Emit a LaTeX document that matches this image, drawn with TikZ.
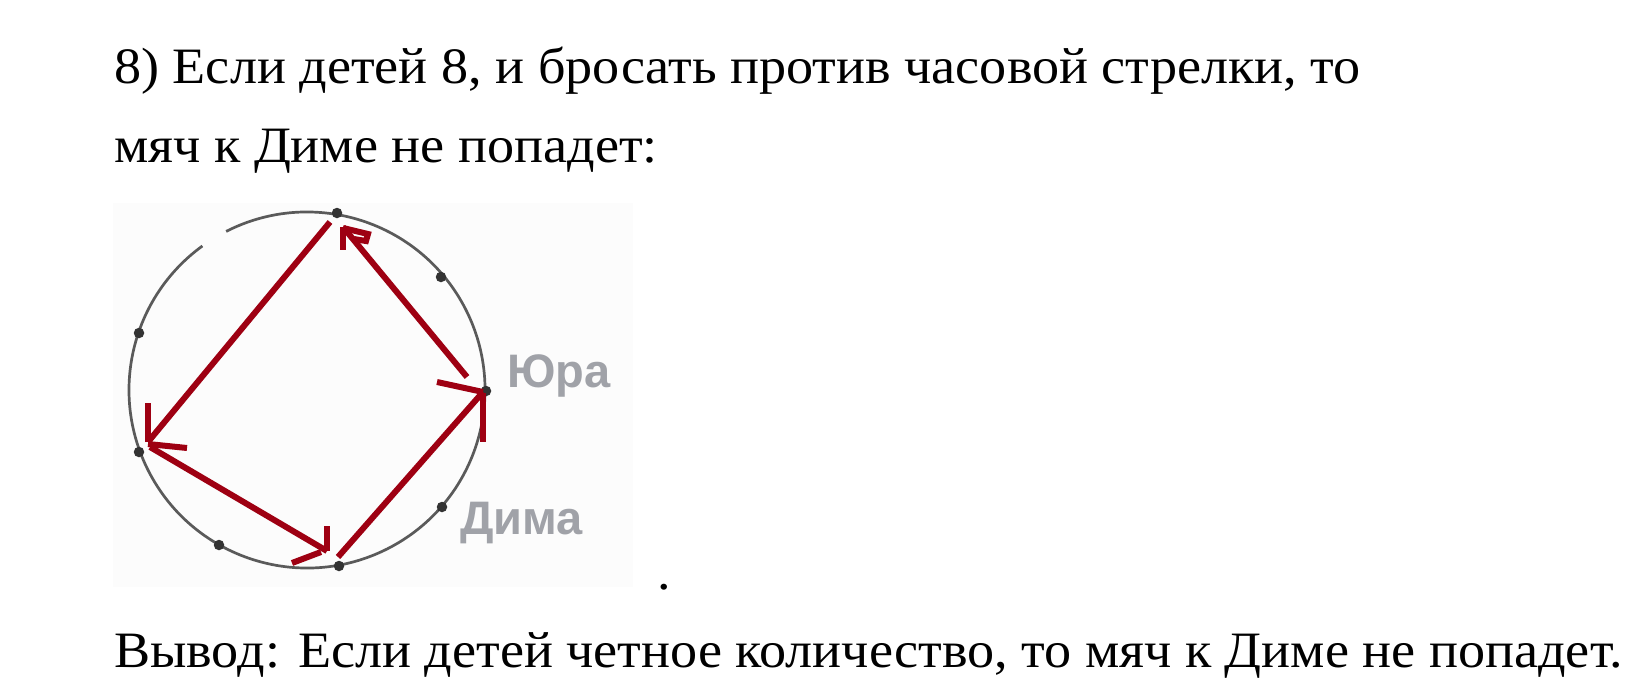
\documentclass[tikz,border=0pt]{standalone}
\usepackage{fontspec}
\setmainfont{Liberation Serif}[FakeStretch=1.062]
\newfontfamily\labelfont{Liberation Sans}
\definecolor{arrowred}{HTML}{9E0012}
\definecolor{circgray}{HTML}{5A5A5A}
\definecolor{dotgray}{HTML}{333333}
\definecolor{labgray}{HTML}{A0A2A8}
\definecolor{bgpaste}{HTML}{FCFCFC}
\begin{document}
\begin{tikzpicture}[x=1pt,y=-1pt,
  maintext/.style={anchor=base west,inner sep=0pt,font=\fontsize{51}{51}\selectfont},
  childdot/.style={circle,fill=dotgray,inner sep=0pt,minimum size=10.5pt},
  redline/.style={draw=arrowred,line width=6pt,line cap=butt,line join=miter},
  kidlabel/.style={inner sep=0pt,anchor=base west,text=labgray,font=\labelfont\bfseries\fontsize{47}{47}\selectfont}]
\useasboundingbox (0,0) rectangle (1640,693);
\fill[white] (0,0) rectangle (1640,693);
\fill[bgpaste] (113,203) rectangle (633,587);
% texts
\node[maintext] (l1) at (114,84) {8) Если детей 8, и бросать против часовой стрелки, то};
\node[maintext] (l2) at (114,162) {мяч к Диме не попадет:};
\node[maintext] (l3) at (114,667) {Вывод: Если детей четное количество, то мяч к Диме не попадет.};
\node[maintext] (dot) at (657,589) {.};
% circle with a small gap at the upper left
\draw[circgray,line width=2.7pt] (307,390) ++(-117:178) arc[start angle=-117,end angle=234,radius=178];
% children
\node[childdot] (p1) at (337,213) {};
\node[childdot] (p2) at (441,277) {};
\node[childdot] (p3) at (486,391) {};
\node[childdot] (p4) at (442,507) {};
\node[childdot] (p5) at (339,566) {};
\node[childdot] (p6) at (219,545) {};
\node[childdot] (p7) at (139,452) {};
\node[childdot] (p8) at (139,333) {};
\node[kidlabel] (yura) at (507,387) {Юра};
\node[kidlabel] (dima) at (460,534) {Дима};
% arrow ends
\coordinate (a1s) at (330,222);
\coordinate (a1e) at (148,442);
\coordinate (a2s) at (150,447);
\coordinate (a2e) at (327,551);
\coordinate (a3s) at (338,557);
\coordinate (a3e) at (483,392);
\coordinate (a4s) at (467,377);
\coordinate (a4e) at (343,227);
% arrows (counterclockwise)
\draw[redline] (a1s) -- (a1e);
\draw[redline] (a1e) -- ++(0,-39);
\draw[redline] (a1e) ++(0,2) -- ++(39,4);
\draw[redline] (a2s) -- (a2e);
\draw[redline] (a2e) -- ++(0,-25);
\draw[redline] (a2e) ++(-6,1) -- ++(-29,11);
\draw[redline] (a3s) -- (a3e);
\draw[redline] (a3e) -- ++(-46,-10);
\draw[redline] (a3e) ++(0,1) -- ++(0,49);
\draw[redline] (a4s) -- (a4e);
\draw[redline] (a4e) -- ++(0,23);
\draw[redline] (a4e) ++(0,1) -- ++(25,6) -- ++(-2,7) -- ++(-12,-2);
\end{tikzpicture}
\end{document}
